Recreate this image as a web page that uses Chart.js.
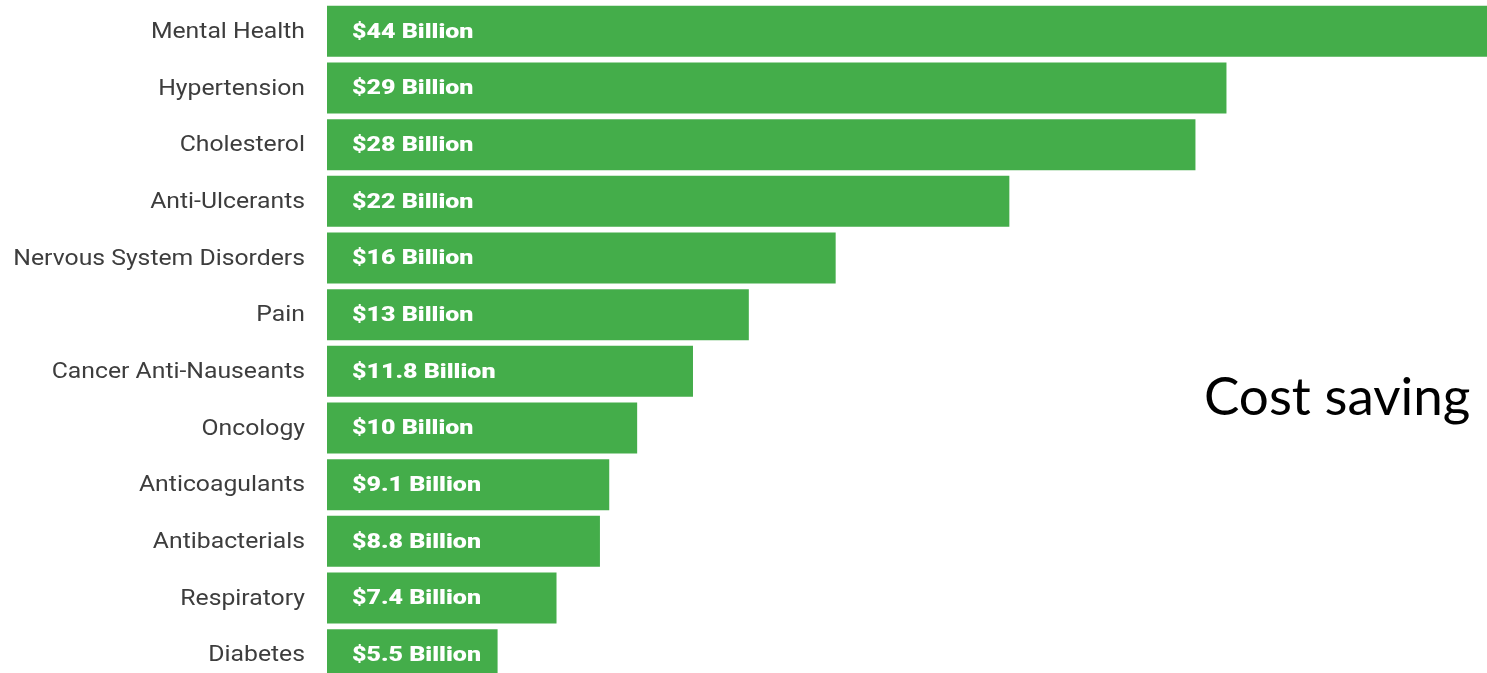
<!DOCTYPE html>
<html>
<head>
<meta charset="utf-8">
<script src="https://cdn.jsdelivr.net/npm/chart.js@4.4.1/dist/chart.umd.min.js"></script>
<style>
    html, body { margin: 0; padding: 0; background: #fff; overflow: hidden; }
    #wrap { position: absolute; left: 0; top: 0; width: 1487px; height: 683px; }
    #note {
        position: absolute; left: 1204px; top: 363px;
        font-family: Lato, "Open Sans", sans-serif; font-size: 53px; color: #000;
        white-space: nowrap;
    }
</style>
</head>
<body>
<div id="wrap"><canvas id="costChart"></canvas></div>
<div id="note">Cost saving</div>
<script>
        const categories = ['Mental Health', 'Hypertension', 'Cholesterol', 'Anti-Ulcerants',
            'Nervous System Disorders', 'Pain', 'Cancer Anti-Nauseants', 'Oncology',
            'Anticoagulants', 'Antibacterials', 'Respiratory', 'Diabetes'];
        // bar lengths as measured (Nervous System / Pain bars run a bit past their printed value)
        const savings = [44, 29, 28, 22, 16.4, 13.6, 11.8, 10, 9.1, 8.8, 7.4, 5.5];
        const valueLabels = ['$44 Billion', '$29 Billion', '$28 Billion', '$22 Billion',
            '$16 Billion', '$13 Billion', '$11.8 Billion', '$10 Billion',
            '$9.1 Billion', '$8.8 Billion', '$7.4 Billion', '$5.5 Billion'];
        const xMax = 37.4; // the top bar runs off the right edge in the original

        // the source picture is stretched sideways, so text is drawn with a horizontal scale
        function wideText(ctx, text, x, y, sx) {
            ctx.save();
            ctx.translate(x, y);
            ctx.scale(sx, 1);
            ctx.fillText(text, 0, 0);
            ctx.restore();
        }

        const labelText = {
            id: 'labelText',
            afterDraw(chart) {
                const ctx = chart.ctx;
                const yScale = chart.scales.y;
                const meta = chart.getDatasetMeta(0);
                ctx.save();
                ctx.textBaseline = 'middle';

                // category names left of the bars
                ctx.fillStyle = '#3d3d3d';
                ctx.font = '22px Roboto';
                ctx.textAlign = 'right';
                chart.data.labels.forEach(function(lbl, i) {
                    wideText(ctx, lbl, yScale.right - 22, yScale.getPixelForTick(i) + 1, 1.125);
                });

                // white value text inside each bar
                ctx.fillStyle = '#ffffff';
                ctx.font = '900 21px Roboto';
                ctx.textAlign = 'left';
                meta.data.forEach(function(bar, i) {
                    wideText(ctx, valueLabels[i], bar.base + 25, bar.y + 1, 1.19);
                });
                ctx.restore();
            }
        };

        const ctx = document.getElementById('costChart').getContext('2d');
        const costChart = new Chart(ctx, {
            type: 'bar',
            data: {
                labels: categories,
                datasets: [
                    {
                        data: savings,
                        backgroundColor: '#44ad4a',
                        borderWidth: 0,
                        barPercentage: 0.9,
                        categoryPercentage: 1.0
                    }
                ]
            },
            options: {
                indexAxis: 'y',
                responsive: true,
                maintainAspectRatio: false,
                animation: false,
                layout: {
                    autoPadding: false,
                    padding: { top: 3, right: 0, bottom: 0, left: 0 }
                },
                plugins: {
                    legend: { display: false },
                    tooltip: { enabled: false }
                },
                scales: {
                    x: {
                        display: false,
                        min: 0,
                        max: xMax
                    },
                    y: {
                        grid: { display: false, drawTicks: false },
                        border: { display: false },
                        ticks: { display: false },
                        afterFit: function(scale) {
                            scale.width = 327;
                            scale.paddingTop = 0;
                            scale.paddingBottom = 0;
                        }
                    }
                }
            },
            plugins: [labelText]
        });
</script>
</body>
</html>
